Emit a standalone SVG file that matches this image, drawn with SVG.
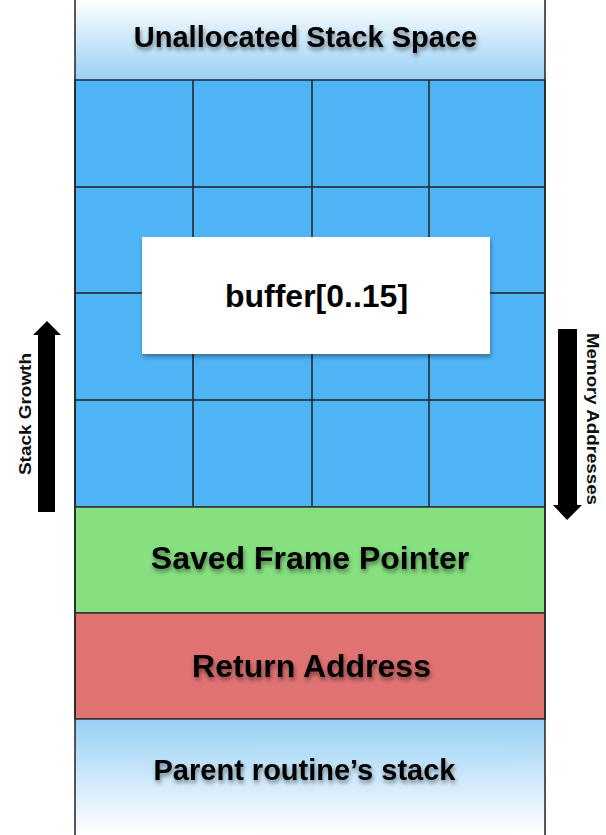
<svg xmlns="http://www.w3.org/2000/svg" width="606" height="835" viewBox="0 0 606 835">
<defs>
<linearGradient id="gTop" x1="0" y1="0" x2="0" y2="1"><stop offset="0" stop-color="#ffffff"/><stop offset="1" stop-color="#98d0f5"/></linearGradient>
<linearGradient id="gBot" x1="0" y1="0" x2="0" y2="1"><stop offset="0" stop-color="#98d0f5"/><stop offset="1" stop-color="#ffffff"/></linearGradient>
<filter id="ts" x="-10%" y="-30%" width="120%" height="160%"><feDropShadow dx="1" dy="3" stdDeviation="2" flood-color="#000" flood-opacity="0.45"/></filter>
<filter id="bs" x="-10%" y="-10%" width="120%" height="130%"><feDropShadow dx="1" dy="3" stdDeviation="2" flood-color="#000" flood-opacity="0.35"/></filter>
<style>
.lbl{font-family:"Liberation Sans",Arial,sans-serif;font-weight:bold;font-size:29px;fill:#000;text-anchor:middle}
.big{font-size:32px}
.side{font-family:"Liberation Sans",Arial,sans-serif;font-weight:bold;font-size:17px;fill:#111;text-anchor:middle}
.cell{fill:#4fb4f6;stroke:#1e2a38;stroke-width:1.5}
.edge{stroke:#222;stroke-width:1.5;fill:none}
</style>
</defs>
<g id="unallocated">
<rect x="75" y="0" width="470" height="80" fill="url(#gTop)"/>
<text class="lbl" x="305.5" y="47" filter="url(#ts)">Unallocated Stack Space</text>
</g>
<g id="buffer-grid">
<rect x="75" y="80" width="470" height="427" class="cell"/>
<path class="edge" d="M193,80V507M312,80V507M429,80V507M75,187H545M75,293H545M75,400H545" stroke="#1e2a38"/>
</g>
<g id="buffer-label">
<rect x="142" y="237" width="348" height="117" fill="#fff" filter="url(#bs)"/>
<text class="lbl big" x="316.5" y="307">buffer[0..15]</text>
</g>
<g id="saved-frame-pointer">
<rect x="75" y="507" width="470" height="106" fill="#86e07f" stroke="#333" stroke-width="1.5"/>
<text class="lbl big" x="310" y="569" filter="url(#ts)">Saved Frame Pointer</text>
</g>
<g id="return-address">
<rect x="75" y="613" width="470" height="106" fill="#e07272" stroke="#333" stroke-width="1.5"/>
<text class="lbl big" x="311.5" y="677" filter="url(#ts)">Return Address</text>
</g>
<g id="parent-stack">
<rect x="75" y="719" width="470" height="116" fill="url(#gBot)"/>
<text class="lbl" x="304.5" y="780" filter="url(#ts)">Parent routine’s stack</text>
</g>
<g id="connectors">
<path class="edge" d="M75,0V835M545,0V835"/>
<line x1="75" y1="719" x2="545" y2="719" stroke="#333" stroke-width="1.5"/>
</g>
<g id="stack-growth">
<polygon points="38,512 55,512 55,335 61,335 47,321 33,335 38,335" fill="#000"/>
<text class="side" transform="translate(31,414) rotate(-90)" textLength="122" lengthAdjust="spacingAndGlyphs">Stack Growth</text>
</g>
<g id="memory-addresses">
<polygon points="558,329 577,329 577,505 582,505 567,520 553,505 558,505" fill="#000"/>
<text class="side" transform="translate(587,419) rotate(90)" textLength="172" lengthAdjust="spacingAndGlyphs">Memory Addresses</text>
</g>
</svg>
